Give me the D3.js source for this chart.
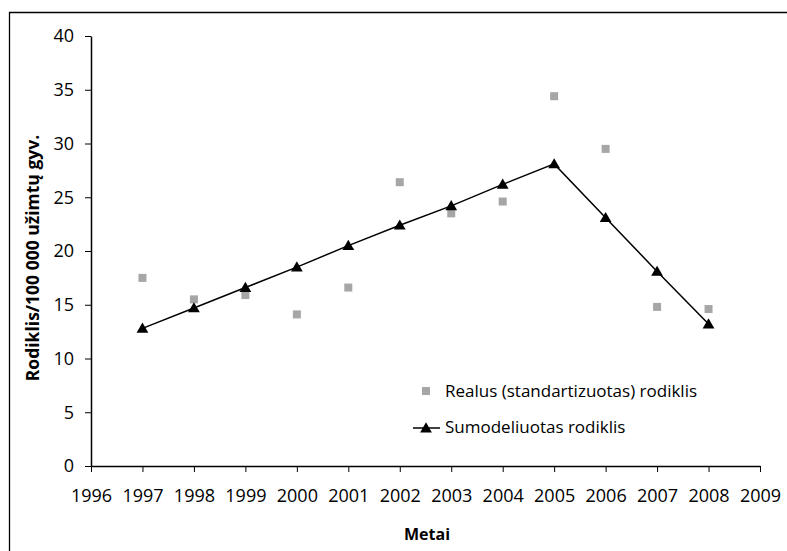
<!DOCTYPE html>
<html><head><meta charset="utf-8">
<script src="https://cdn.jsdelivr.net/npm/d3@7"></script>
<style>body{margin:0;background:#fff}svg{display:block}text{font-family:"Open Sans",sans-serif;fill:#000}</style>
</head><body><svg id="c" width="787" height="551"></svg>
<script>
const years = [1997,1998,1999,2000,2001,2002,2003,2004,2005,2006,2007,2008];
const realValues = [17.5,15.5,15.9,14.1,16.6,26.4,23.5,24.6,34.4,29.5,14.8,14.6];
const modelValues = [12.8,14.7,16.6,18.5,20.5,22.4,24.2,26.2,28.1,23.1,18.1,13.2];
const xTicks = d3.range(1996,2010);
const yTicks = [0,5,10,15,20,25,30,35,40];
const seriesNames = ["Realus (standartizuotas) rodiklis","Sumodeliuotas rodiklis"];
const xTitle = "Metai";
const yTitle = "Rodiklis/100 000 užimtų gyv.";

const svg = d3.select("#c");
svg.append("path").attr("d","M9.5,551V12.5H787").attr("fill","none").attr("stroke","#000").attr("stroke-width",1.3);

const x = d3.scaleLinear().domain([1996,2009]).range([91,760]);
const y = d3.scaleLinear().domain([0,40]).range([466,36]);

const xa = svg.append("g").attr("transform","translate(0,466)")
  .call(d3.axisBottom(x).tickValues(xTicks).tickFormat(d3.format("d")).tickSize(6).tickSizeOuter(0));
const ya = svg.append("g").attr("transform","translate(91,0)")
  .call(d3.axisLeft(y).tickValues(yTicks).tickSize(6).tickSizeOuter(0));
[xa,ya].forEach(a=>{a.select(".domain").attr("stroke","#000").attr("stroke-width",1.5);
  a.selectAll(".tick line").attr("stroke","#000").attr("stroke-width",1);
  a.selectAll("text").style("font-family","'Open Sans',sans-serif").style("font-size","18px").attr("fill","#000");});
xa.selectAll("text").attr("dy","0.71em").attr("y",23);
ya.selectAll("text").attr("x",-17);

svg.append("text").attr("x",427).attr("y",540).attr("text-anchor","middle")
  .style("font-size","16px").style("font-weight","bold").text(xTitle);
svg.append("text").attr("transform","translate(39,258) rotate(-90)").attr("text-anchor","middle")
  .style("font-size","17.5px").style("font-weight","bold").text(yTitle);

// real squares
svg.append("g").selectAll("rect").data(years).join("rect")
  .attr("x",(d)=>x(d)-4).attr("y",(d,i)=>y(realValues[i])-4).attr("width",8).attr("height",8).attr("fill","#a6a6a6");

// model line
const line = d3.line().x((d)=>x(d)).y((d,i)=>y(modelValues[i]));
svg.append("path").datum(years).attr("d",line).attr("fill","none").attr("stroke","#000").attr("stroke-width",1.5);
const tri = d3.symbol().type(d3.symbolTriangle).size(60);
svg.append("g").selectAll("path").data(years).join("path")
  .attr("d",tri).attr("transform",(d,i)=>`translate(${x(d)},${y(modelValues[i])+1})`).attr("fill","#000");

// legend
svg.append("rect").attr("x",422).attr("y",387).attr("width",8).attr("height",8).attr("fill","#a6a6a6");
svg.append("text").attr("x",445).attr("y",397).style("font-size","17px").text(seriesNames[0]);
svg.append("line").attr("x1",413).attr("x2",440).attr("y1",428).attr("y2",428).attr("stroke","#000").attr("stroke-width",1.5);
svg.append("path").attr("d",tri).attr("transform","translate(426,429)").attr("fill","#000");
svg.append("text").attr("x",445).attr("y",433).style("font-size","17px").text(seriesNames[1]);
</script></body></html>
